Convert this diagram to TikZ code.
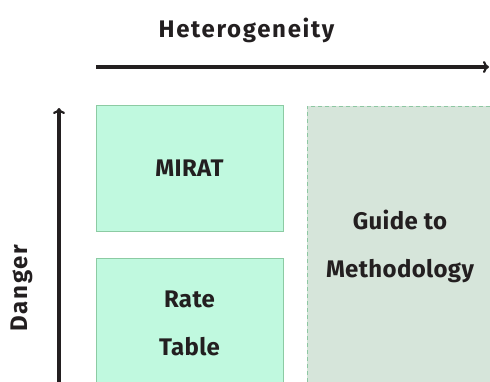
\documentclass[tikz,border=0pt]{standalone}
\usepackage{fontspec}
\setmainfont{Fira Sans}
\newfontfamily\titlefont{Fira Sans}[LetterSpace=7]
\newfontfamily\boxfont{Fira Sans}[LetterSpace=1.5]
\usetikzlibrary{arrows.meta}
\definecolor{inktext}{HTML}{231F20}
\definecolor{mintfill}{HTML}{C0F9DF}
\definecolor{mintline}{HTML}{8CCBA3}
\definecolor{sagefill}{HTML}{D6E5DA}
\definecolor{sageline}{HTML}{8DC7A2}
\tikzset{
  axislbl/.style={font=\titlefont\bfseries\fontsize{24}{48}\selectfont, text=inktext, align=center},
  lbl/.style={font=\boxfont\bfseries\fontsize{24}{48}\selectfont, text=inktext, align=center},
  toolbox/.style={lbl, draw=mintline, fill=mintfill, line width=1pt, inner sep=0pt},
  guidebox/.style={lbl, draw=sageline, fill=sagefill, line width=1pt, dash pattern=on 4pt off 3pt, inner sep=0pt},
  axis/.style={draw=inktext, line width=3.4pt, -{To[length=6pt,width=12pt,line width=2.2pt]}}
}
\begin{document}
\begin{tikzpicture}[x=1pt,y=-1pt]
  \useasboundingbox (0,0) rectangle (490,381);
  \clip (0,0) rectangle (490,381);
  % axis titles
  \node[axislbl] (htitle) at (246.5,30) {Heterogeneity};
  \node[axislbl, rotate=90] (vtitle) at (22,288) {Danger};
  % axes
  \coordinate (hstart) at (96,67);
  \coordinate (hend) at (489,67);
  \coordinate (vstart) at (59,395);
  \coordinate (vend) at (59,108);
  \draw[axis] (hstart) -- (hend);
  \draw[axis] (vstart) -- (vend);
  % boxes
  \node[toolbox, minimum width=187pt, minimum height=126pt] (mirat) at (189.5,168) {MIRAT};
  \node[toolbox, minimum width=187pt, minimum height=130pt] (rate) at (189.5,323) {Rate\\Table};
  \node[guidebox, minimum width=186pt, minimum height=280pt] (guide) at (400,246) {Guide to\\Methodology};
\end{tikzpicture}
\end{document}
